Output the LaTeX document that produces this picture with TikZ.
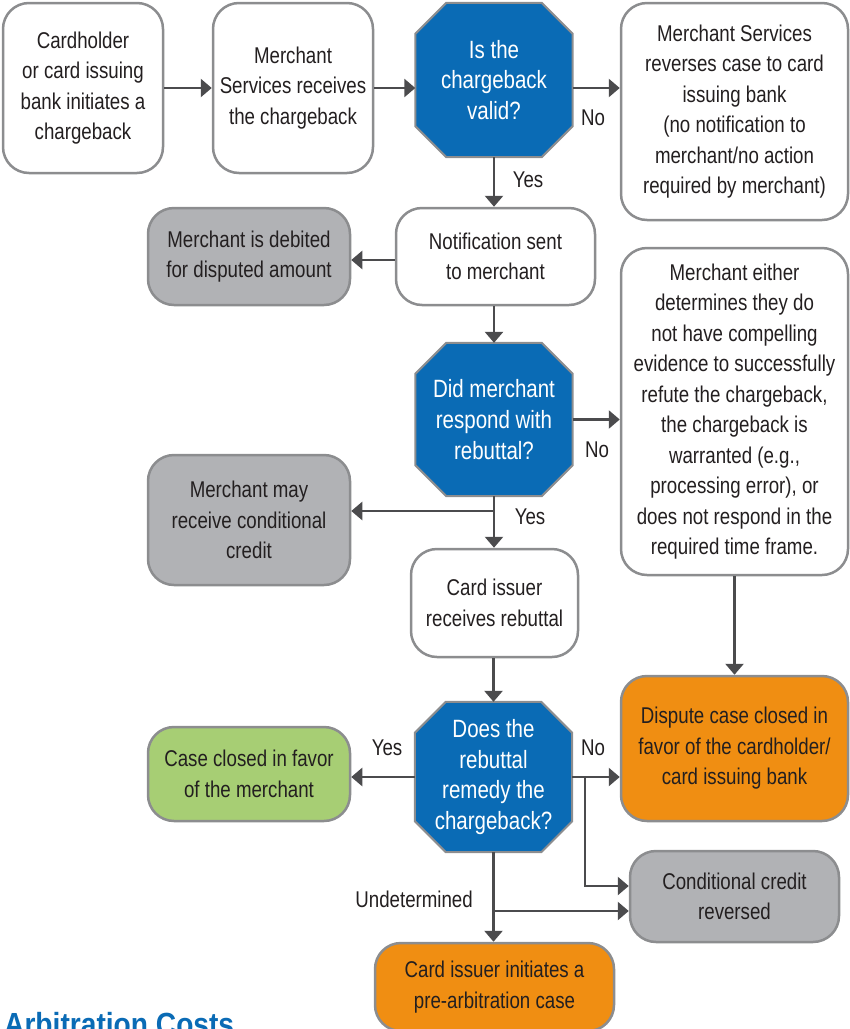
\documentclass[tikz,border=0pt]{standalone}
\usepackage{fontspec}
\setmainfont[FakeStretch=0.82]{Liberation Sans}
\newfontfamily\headfont[FakeStretch=0.88]{Liberation Sans}
\usetikzlibrary{arrows.meta,calc}
\definecolor{boxborder}{HTML}{8C8D8F}
\definecolor{arrowgray}{HTML}{4B4B4D}
\definecolor{octblue}{HTML}{0A6BB5}
\definecolor{fillgray}{HTML}{B1B2B5}
\definecolor{fillgreen}{HTML}{A7CE74}
\definecolor{fillorange}{HTML}{F08E12}
\definecolor{txt}{HTML}{231F20}
\definecolor{headblue}{HTML}{0A6BB5}
\pgfdeclarelayer{bg}
\pgfsetlayers{bg,main}
\begin{document}
\begin{tikzpicture}[x=1pt,y=-1pt,
 base/.style={rectangle, rounded corners=26pt, draw=boxborder, line width=2.5pt, align=center, text=txt, font=\fontsize{22.8}{30.5}\selectfont, inner sep=0pt},
 whitebox/.style={base, fill=white},
 graybox/.style={base, fill=fillgray},
 greenbox/.style={base, fill=fillgreen},
 orangebox/.style={base, fill=fillorange},
 decision/.style={rectangle, text=white, align=center, font=\fontsize{25}{30.7}\selectfont, inner sep=0pt, minimum width=157pt},
 octagon/.style={fill=octblue, draw=boxborder, line width=2pt, line join=miter},
 arr/.style={draw=arrowgray, line width=2.6pt, -{Triangle[length=11pt,width=18pt]}},
 lbl/.style={text=txt, font=\fontsize{22.8}{26}\selectfont, inner sep=0pt}
]
\useasboundingbox (0,0) rectangle (850,1029);

% nodes
\node[whitebox, minimum width=160pt, minimum height=170pt] (c1) at (83,88) {Cardholder\\or card issuing\\bank initiates a\\chargeback};
\node[whitebox, minimum width=160pt, minimum height=170pt] (c2) at (293,88) {Merchant\\Services receives\\the chargeback};
\node[decision, minimum height=154pt] (d1) at (494,80) {Is the\\chargeback\\valid?};
\node[whitebox, minimum width=227pt, minimum height=217pt] (b4) at (734.5,111.5) {\raisebox{7pt}{\begin{tabular}{@{}c@{}}Merchant Services\\reverses case to card\\issuing bank\\(no notification to\\merchant/no action\\required by merchant)\end{tabular}}};
\node[whitebox, minimum width=199pt, minimum height=97pt] (n1) at (495.5,256.5) {Notification sent\\to merchant};
\node[graybox, minimum width=202pt, minimum height=97pt] (deb) at (249,256.5) {Merchant is debited\\for disputed amount};
\node[decision, minimum height=153pt] (d2) at (494,419.5) {Did merchant\\respond with\\rebuttal?};
\node[whitebox, minimum width=227pt, minimum height=327pt] (me) at (734.5,411.5) {Merchant either\\determines they do\\not have compelling\\evidence to successfully\\refute the chargeback,\\the chargeback is\\warranted (e.g.,\\processing error), or\\does not respond in the\\required time frame.};
\node[graybox, minimum width=202pt, minimum height=130pt] (may) at (249,520) {Merchant may\\receive conditional\\credit};
\node[whitebox, minimum width=167pt, minimum height=108pt] (cir) at (494.5,603) {Card issuer\\receives rebuttal};
\node[decision, minimum height=150pt] (d3) at (493.5,777) {Does the\\rebuttal\\remedy the\\chargeback?};
\node[greenbox, minimum width=202pt, minimum height=94pt] (ccm) at (249,774) {Case closed in favor\\of the merchant};
\node[orangebox, minimum width=227pt, minimum height=145pt] (dc) at (734.5,748.5) {Dispute case closed in\\favor of the cardholder/\\card issuing bank};
\node[graybox, minimum width=209pt, minimum height=91pt] (ccr) at (734.5,896.5) {Conditional credit\\reversed};
\node[orangebox, minimum width=239pt, minimum height=88pt] (cii) at (494.5,987) {Card issuer initiates a\\pre-arbitration case};

\node[anchor=base west, inner sep=0pt, text=headblue, font={\headfont\bfseries\fontsize{32}{32}\selectfont}] (head) at (4,1035) {Arbitration Costs};

% octagons behind decision texts
\begin{pgfonlayer}{bg}
\foreach \n in {d1,d2,d3}{
  \draw[octagon] ($(\n.north west)+(31,0)$) -- ($(\n.north east)+(-31,0)$) -- ($(\n.north east)+(0,31)$) -- ($(\n.south east)+(0,-31)$) -- ($(\n.south east)+(-31,0)$) -- ($(\n.south west)+(31,0)$) -- ($(\n.south west)+(0,-31)$) -- ($(\n.north west)+(0,31)$) -- cycle;
}
\end{pgfonlayer}

% labels
\node[lbl] (l1) at (593,118) {No};
\node[lbl] (l2) at (528,180) {Yes};
\node[lbl] (l3) at (597,450) {No};
\node[lbl] (l4) at (530,517) {Yes};
\node[lbl] (l5) at (387,748) {Yes};
\node[lbl] (l6) at (593,748) {No};
\node[lbl, anchor=east] (l7) at (473,899) {Undetermined};

% connectors
\draw[arr] (c1.east) -- (c2.west);
\draw[arr] (c2.east) -- (c2.east -| d1.west);
\draw[arr] (d1.east |- c2.east) -- (b4.west |- c2.east);
\draw[arr] (d1.south) -- (d1.south |- n1.north);
\draw[arr] (n1.west |- 0,260) -- (deb.east |- 0,260);
\draw[arr] (d2.north |- n1.south) -- (d2.north);
\draw[arr] (d2.east) -- (me.west |- d2.east);
\draw[arr] (me.south) -- (me.south |- dc.north);
\draw[arr] (d2.south) -- (d2.south |- cir.north);
\coordinate (j1) at (d2.south |- 0,511);
\draw[arr] (j1) -- (j1 -| may.east);
\draw[arr] (d3.north |- cir.south) -- (d3.north);
\draw[arr] (d3.west) -- (ccm.east |- d3.west);
\draw[arr] (d3.east) -- (dc.west |- d3.east);
\coordinate (j2) at (585,777);
\coordinate (j2b) at (ccr.west |- 0,886);
\draw[arr] (j2) |- (j2b);
\draw[arr] (d3.south) -- (d3.south |- cii.north);
\coordinate (j3) at (d3.south |- 0,911);
\draw[arr] (j3) -- (ccr.west |- j3);
\end{tikzpicture}
\end{document}
